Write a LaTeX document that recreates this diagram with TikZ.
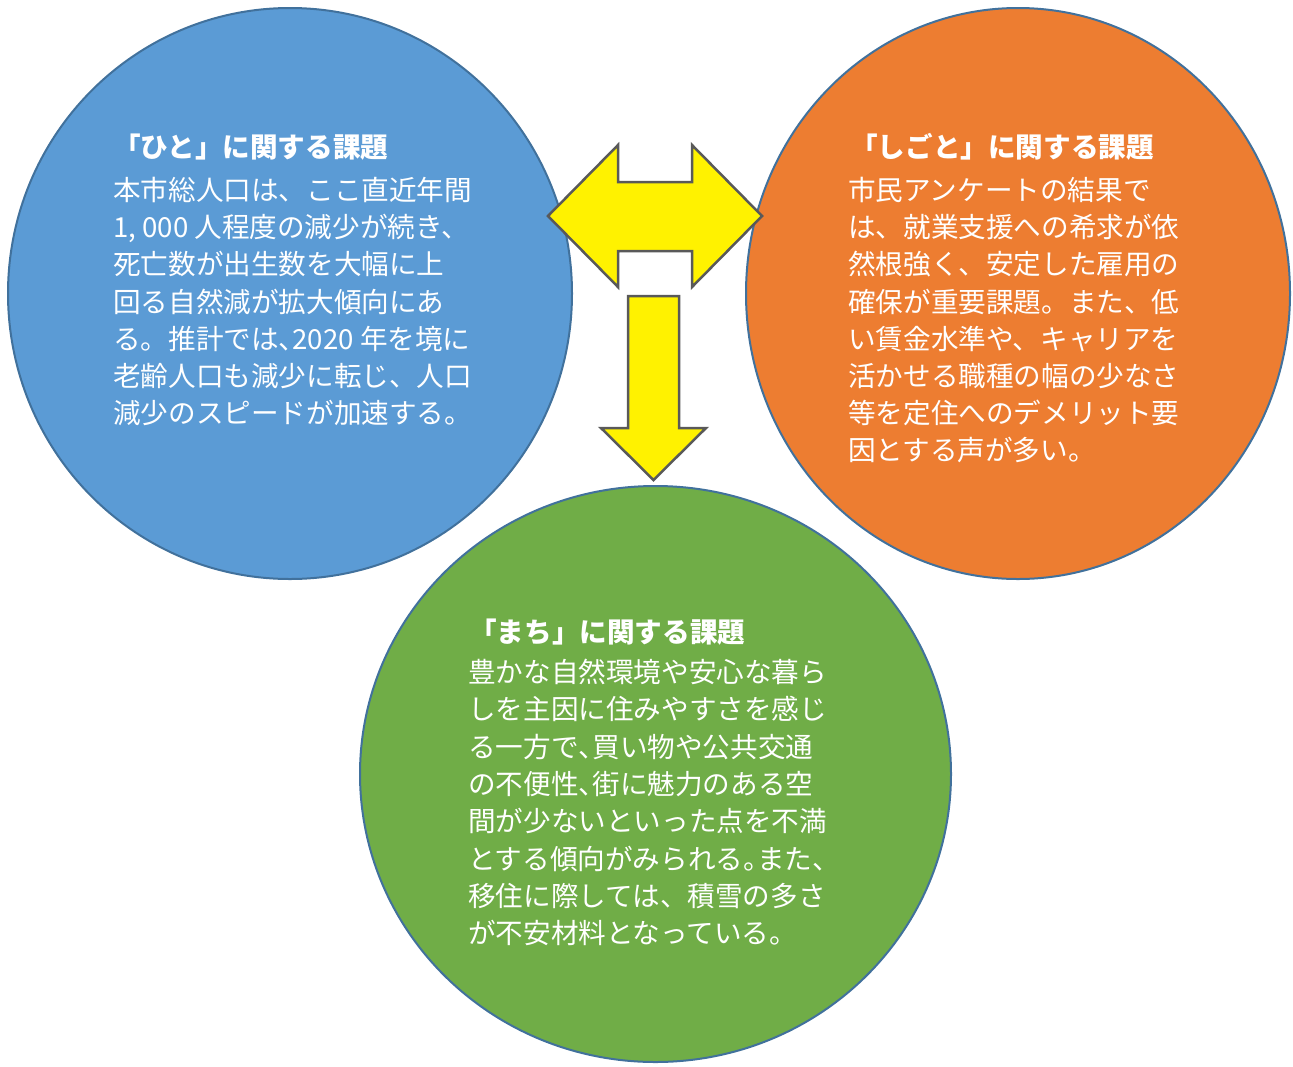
\documentclass[tikz,border=0pt]{standalone}
\usepackage{fontspec}
\usetikzlibrary{shapes.geometric}
\newfontfamily\jp{Noto Sans CJK JP}
\definecolor{cblue}{HTML}{5B9BD5}
\definecolor{corange}{HTML}{ED7D31}
\definecolor{cgreen}{HTML}{70AD47}
\definecolor{cedge}{HTML}{41719C}
\definecolor{cgray}{HTML}{595959}
\newcommand{\hw}[1]{\makebox[0.5em][l]{#1}}
\begin{document}
\begin{tikzpicture}[x=1pt,y=-1pt,
  bubble/.style={ellipse, draw=cedge, line width=2pt, inner sep=0pt},
  blockarrow/.style={fill=yellow, draw=cgray, line width=2.5pt, line join=miter},
  txt/.style={font=\jp\fontsize{27.6}{37.2}\selectfont, text=white, inner sep=0pt, anchor=west, text height=24.3pt, text depth=3.3pt},
  ttl/.style={txt, font=\jp\bfseries\fontsize{27.6}{37.2}\selectfont}]
\useasboundingbox (0,0) rectangle (1293,1066);
% circles
\node[bubble, fill=cblue, minimum width=564pt, minimum height=571pt] (hito) at (290,293.5) {};
\node[bubble, fill=corange, minimum width=544pt, minimum height=571pt] (shigoto) at (1018,293.5) {};
\node[bubble, fill=cgreen, minimum width=591pt, minimum height=576pt] (machi) at (655.5,774) {};
% block arrows
\draw[blockarrow] (548,216) -- (618,145) -- (618,182) -- (692,182) -- (692,145) -- (762,216)
  -- (692,287) -- (692,251) -- (618,251) -- (618,287) -- cycle;
\draw[blockarrow] (628,296) -- (679,296) -- (679,428) -- (706,428) -- (653.5,480)
  -- (601,428) -- (628,428) -- cycle;
% hito text
\node[ttl] (ht) at (113,147) {「ひと」に関する課題};
\foreach \t [count=\i] in {本市総人口は、ここ直近年間,{1, 000 人程度の減少が続き、},死亡数が出生数を大幅に上,回る自然減が拡大傾向にあ,る。推計では\hw{、}2020 年を境に,老齢人口も減少に転じ、人口,減少のスピードが加速する。}
  \node[txt] (h\i) at (113,{190+37.2*(\i-1)}) {\t};
% shigoto text
\node[ttl] (st) at (850,147) {「しごと」に関する課題};
\foreach \t [count=\i] in {市民アンケートの結果で,は、就業支援への希求が依,然根強く、安定した雇用の,確保が重要課題。また、低,い賃金水準や、キャリアを,活かせる職種の幅の少なさ,等を定住へのデメリット要,因とする声が多い。}
  \node[txt] (s\i) at (848,{190+37.2*(\i-1)}) {\t};
% machi text
\node[ttl] (mt) at (469,632) {「まち」に関する課題};
\foreach \t [count=\i] in {豊かな自然環境や安心な暮ら,しを主因に住みやすさを感じ,る一方で\hw{、}買い物や公共交通,の不便性\hw{、}街に魅力のある空,間が少ないといった点を不満,とする傾向がみられる\hw{。}また、,移住に際しては、積雪の多さ,が不安材料となっている。}
  \node[txt] (m\i) at (468,{672+37.3*(\i-1)}) {\t};
\end{tikzpicture}
\end{document}
